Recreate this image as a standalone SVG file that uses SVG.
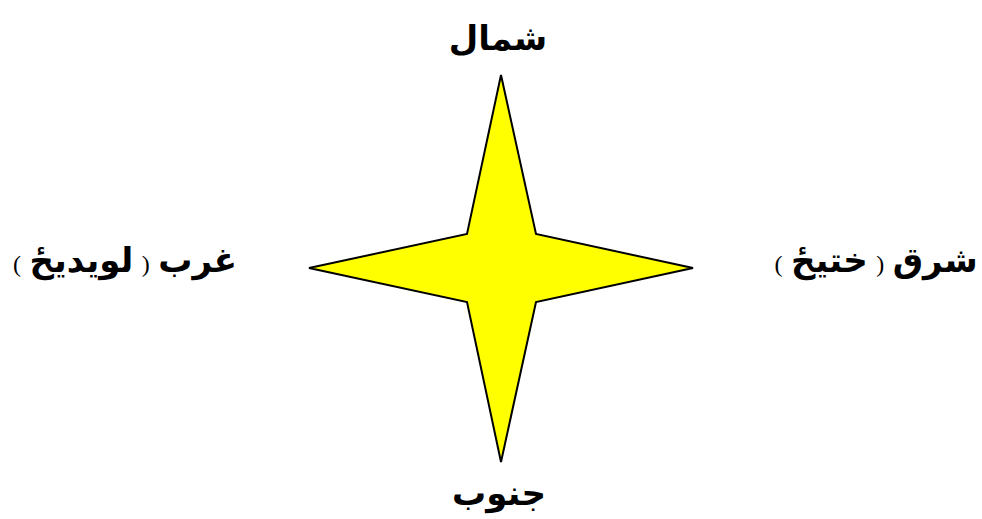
<svg xmlns="http://www.w3.org/2000/svg" width="982" height="519" viewBox="0 0 982 519">
<style>
.lbl{font-family:"Liberation Serif","DejaVu Serif","DejaVu Sans",serif;font-weight:bold;font-size:34px;fill:#000;text-anchor:middle;direction:rtl;unicode-bidi:embed}
.par{font-size:24px;font-weight:normal}
</style>
<rect width="982" height="519" fill="#fff"/>
<g id="star">
<polygon points="501,75 536,234 693,268 536,302 501,462 467,302 309,268 467,234" fill="#ffff00" stroke="#000" stroke-width="2" stroke-linejoin="miter"/>
</g>
<g id="north"><text class="lbl" x="498" y="50">شمال</text></g>
<g id="south"><text class="lbl" x="499" y="505">جنوب</text></g>
<g id="west"><text class="lbl" x="125" y="272">غرب <tspan class="par">(</tspan> لویدیځ <tspan class="par">)</tspan></text></g>
<g id="east"><text class="lbl" x="876" y="272">شرق <tspan class="par">(</tspan> ختیځ <tspan class="par">)</tspan></text></g>
<g id="connectors"></g>
</svg>
